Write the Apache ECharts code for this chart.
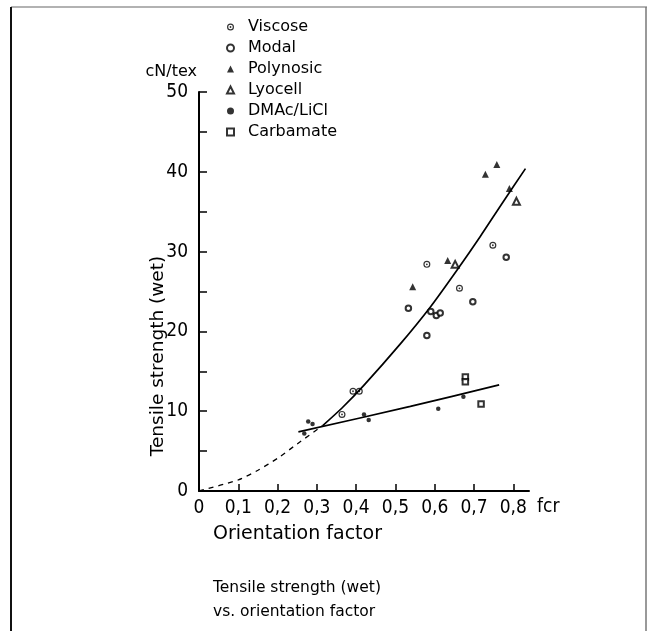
<!DOCTYPE html>
<html>
<head>
<meta charset="utf-8">
<script src="https://cdn.jsdelivr.net/npm/echarts@6/dist/echarts.min.js"></script>
<style>
    html, body { margin: 0; padding: 0; background: #fff; }
    #chart { width: 647px; height: 631px; }
</style>
</head>
<body>
<div id="chart"></div>
<script>
// 各纤维类型的测量点 [取向因子, 湿强 cN/tex]
var viscoseData = [[0.364, 9.6], [0.392, 12.5], [0.408, 12.5], [0.580, 28.4], [0.663, 25.4], [0.748, 30.8]];
var modalData = [[0.533, 22.9], [0.580, 19.5], [0.590, 22.5], [0.604, 22.0], [0.614, 22.3], [0.697, 23.7], [0.782, 29.3]];
var polynosicData = [[0.544, 25.6], [0.633, 28.9], [0.729, 39.7], [0.758, 40.9], [0.790, 37.9]];
var lyocellData = [[0.652, 28.4], [0.808, 36.3]];
var dmacData = [[0.268, 7.2], [0.278, 8.7], [0.289, 8.4], [0.420, 9.6], [0.432, 8.9], [0.609, 10.3], [0.673, 11.8]];
var carbamateData = [[0.678, 14.3], [0.678, 13.7], [0.718, 10.9]];

// 拟合曲线
var upperCurve = [[0.315, 8.2], [0.364, 10.4], [0.419, 13.2], [0.512, 18.4], [0.588, 23.0], [0.657, 27.7], [0.716, 31.9], [0.771, 36.0], [0.831, 40.4]];
var lowerLine = [[0.253, 7.4], [0.538, 10.6], [0.764, 13.3]];
var dashedCurve = [[0, 0], [0.1, 1.4], [0.15, 2.6], [0.2, 4.1], [0.25, 5.9], [0.315, 8.2]];

// 刻度
var xTicks = [0, 0.1, 0.2, 0.3, 0.4, 0.5, 0.6, 0.7, 0.8];
var yLabels = [0, 10, 20, 30, 40, 50];
var yTicks = [0, 5, 10, 15, 20, 25, 30, 35, 40, 45, 50];

var seriesNames = ['Viscose', 'Modal', 'Polynosic', 'Lyocell', 'DMAc/LiCl', 'Carbamate'];

var font = '"DejaVu Sans Condensed", "Liberation Sans Narrow", "DejaVu Sans", sans-serif';
var wideFont = '"DejaVu Sans", sans-serif';

// 带中心点的圆环 (Viscose)
var ringDot = 'path://M0,-5A5,5,0,1,1,0,5A5,5,0,1,1,0,-5ZM0,-3.3A3.3,3.3,0,1,0,0,3.3A3.3,3.3,0,1,0,0,-3.3ZM0,-1.3A1.3,1.3,0,1,1,0,1.3A1.3,1.3,0,1,1,0,-1.3Z';

var chart = echarts.init(document.getElementById('chart'));

function scatter(name, data, symbol, size, border) {
    return {
        name: name,
        type: 'scatter',
        data: data,
        symbol: symbol,
        symbolSize: size,
        itemStyle: {
            color: '#000',
            borderColor: '#000',
            borderWidth: border
        },
        z: 5
    };
}

function curve(data, dashed) {
    return {
        type: 'line',
        data: data,
        smooth: 0.25,
        showSymbol: false,
        silent: true,
        lineStyle: { color: '#000', width: dashed ? 1.3 : 1.7, type: dashed ? [5, 5] : 'solid' },
        z: 3
    };
}

var option = {
    animation: false,
    backgroundColor: '#fff',
    grid: { left: 199, top: 92, width: 330, height: 399 },
    legend: {
        orient: 'vertical',
        left: 226,
        top: 19,
        padding: 0,
        itemGap: 5,
        itemWidth: 7,
        itemHeight: 7,
        selectedMode: false,
        data: seriesNames,
        textStyle: { fontFamily: wideFont, fontSize: 16, lineHeight: 16, color: '#000', padding: [0, 0, 0, 9] }
    },
    xAxis: {
        type: 'value',
        min: 0,
        max: 0.84,
        splitLine: { show: false },
        axisLine: { lineStyle: { color: '#000', width: 2 } },
        axisTick: { inside: true, length: 7, lineStyle: { color: '#000', width: 1.5 }, customValues: xTicks },
        axisLabel: {
            customValues: xTicks,
            margin: 8,
            color: '#000',
            fontFamily: font,
            fontSize: 19,
            formatter: function (v) { return String(v).replace('.', ','); }
        }
    },
    yAxis: {
        type: 'value',
        min: 0,
        max: 50,
        interval: 5,
        splitLine: { show: false },
        axisLine: { lineStyle: { color: '#000', width: 2 } },
        axisTick: { inside: true, length: 8, lineStyle: { color: '#000', width: 1.5 }, customValues: yTicks },
        axisLabel: {
            customValues: yLabels,
            margin: 11,
            color: '#000',
            fontFamily: font,
            fontSize: 19
        }
    },
    graphic: [
        // 外框
        { type: 'line', shape: { x1: 11, y1: 7, x2: 647, y2: 7 }, style: { stroke: '#999', lineWidth: 1.5 } },
        { type: 'line', shape: { x1: 11, y1: 7, x2: 11, y2: 631 }, style: { stroke: '#111', lineWidth: 2 } },
        { type: 'line', shape: { x1: 646, y1: 7, x2: 646, y2: 631 }, style: { stroke: '#777', lineWidth: 1.5 } },
        { type: 'text', right: 450, top: 64, style: { text: 'cN/tex', font: '16px ' + wideFont, fill: '#000' } },
        { type: 'text', left: 537, top: 498, style: { text: 'fcr', font: '19px ' + font, fill: '#000' } },
        { type: 'text', left: 213, top: 525, style: { text: 'Orientation factor', font: '19px ' + wideFont, fill: '#000' } },
        {
            type: 'text', x: 158, y: 356, rotation: Math.PI / 2,
            style: { text: 'Tensile strength (wet)', font: '18.5px ' + wideFont, fill: '#000', align: 'center', verticalAlign: 'middle' }
        },
        { type: 'text', left: 213, top: 580, style: { text: 'Tensile strength (wet)', font: '15.5px ' + wideFont, fill: '#000' } },
        { type: 'text', left: 213, top: 604, style: { text: 'vs. orientation factor', font: '15.5px ' + wideFont, fill: '#000' } }
    ],
    series: [
        scatter('Viscose', viscoseData, ringDot, 7, 0),
        scatter('Modal', modalData, 'emptyCircle', 5.5, 1.2),
        scatter('Polynosic', polynosicData, 'triangle', 7, 0),
        scatter('Lyocell', lyocellData, 'emptyTriangle', 7, 1.4),
        scatter('DMAc/LiCl', dmacData, 'circle', 4.5, 0),
        scatter('Carbamate', carbamateData, 'emptyRect', 5.5, 1.3),
        curve(upperCurve, false),
        curve(lowerLine, false),
        curve(dashedCurve, true)
    ]
};

chart.setOption(option);

window.addEventListener('resize', function () {
    chart.resize();
});
</script>
</body>
</html>
